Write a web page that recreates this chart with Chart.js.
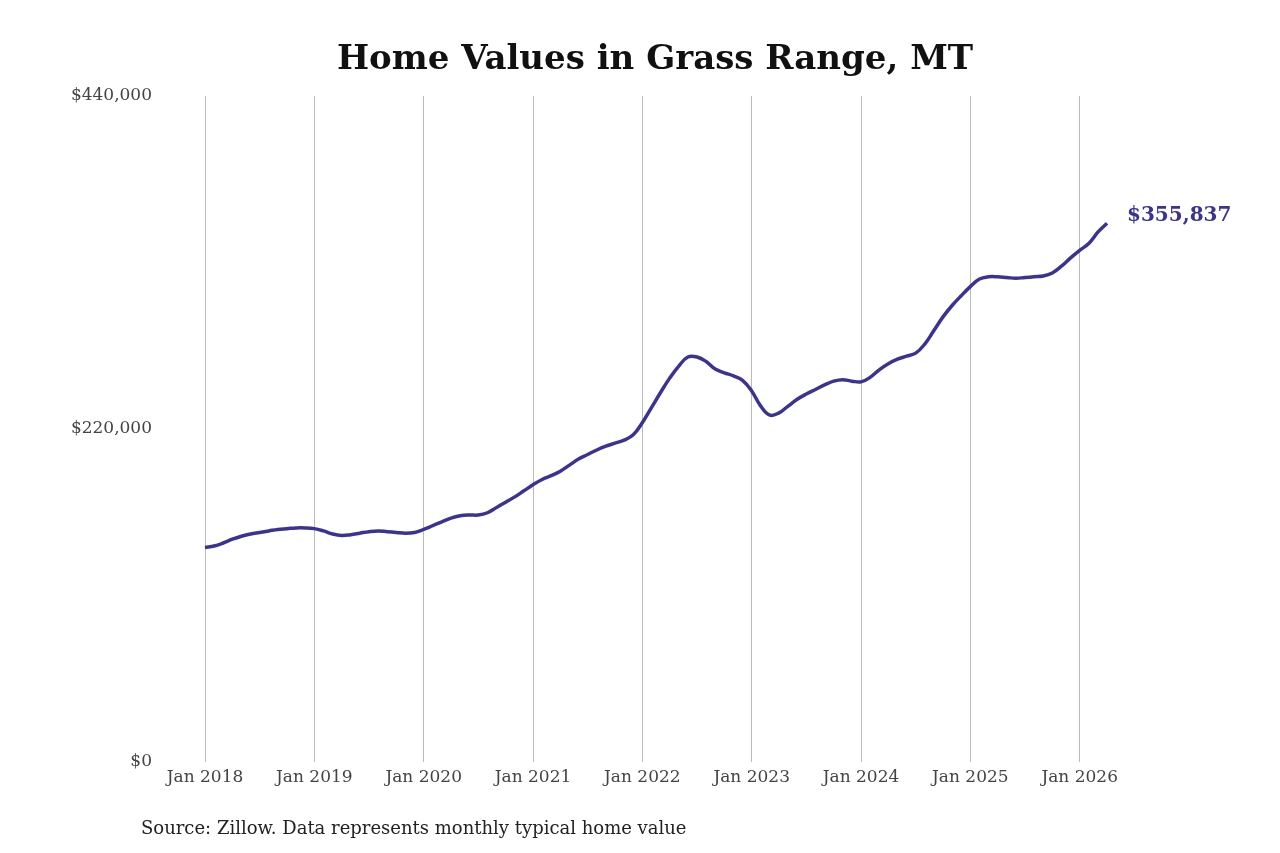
<!DOCTYPE html>
<html>
<head>
<meta charset="utf-8">
<script src="https://cdn.jsdelivr.net/npm/chart.js@4"></script>
<style>
  html, body { margin: 0; padding: 0; background: #fff; }
  #wrap { width: 1280px; height: 853px; }
</style>
</head>
<body>
<div id="wrap"><canvas id="chart"></canvas></div>
<script>
// monthly typical home value, Jan 2018 .. Apr 2026
var months = ["Jan", "Feb", "Mar", "Apr", "May", "Jun", "Jul", "Aug", "Sep", "Oct", "Nov", "Dec"];
var values = [
  141500, 142500, 144500, 147000, 149000, 150500, 151500, 152500, 153500, 154000, 154500, 154500, // 2018
  154000, 152500, 150500, 149500, 150000, 151000, 152000, 152500, 152000, 151500, 151000, 151500, // 2019
  153500, 156000, 158500, 161000, 162500, 163000, 163000, 164500, 168000, 171500, 175000, 179000, // 2020
  183000, 186500, 189000, 192000, 196000, 200000, 203000, 206000, 208500, 210500, 212500, 216000, // 2021
  224000, 234000, 244000, 253500, 261500, 267500, 267500, 264500, 259500, 257000, 255000, 252000, // 2022
  245000, 235000, 229000, 230500, 235000, 239500, 243000, 246000, 249000, 251500, 252500, 251500, // 2023
  251000, 254000, 259000, 263000, 266000, 268000, 270000, 276000, 285000, 294000, 301500, 308000, // 2024
  314000, 319000, 320500, 320500, 320000, 319500, 320000, 320500, 321000, 323000, 327500, 333000, // 2025
  338000, 342500, 350000, 355837                                                                  // 2026
];
var yTicks = [0, 220000, 440000];
var titleText = "Home Values in Grass Range, MT";
var lastLabel = "$355,837";
var sourceText = "Source: Zillow. Data represents monthly typical home value";

var labels = values.map(function (v, i) {
  return months[i % 12] + " " + (2018 + Math.floor(i / 12));
});
var lineColor = "#3b3394";

var extras = {
  id: "extras",
  afterDatasetsDraw: function (chart) {
    var ctx = chart.ctx;
    var meta = chart.getDatasetMeta(0);
    var pt = meta.data[meta.data.length - 1];
    ctx.save();
    ctx.textAlign = "center";
    ctx.textBaseline = "middle";
    ctx.font = "bold 34px 'DejaVu Serif'";
    ctx.fillStyle = "#111";
    ctx.fillText(titleText, 655, 60);
    ctx.textAlign = "left";
    ctx.font = "bold 20px 'DejaVu Serif'";
    ctx.fillStyle = lineColor;
    ctx.fillText(lastLabel, pt.x + 20, pt.y - 8);
    ctx.font = "18px 'DejaVu Serif'";
    ctx.fillStyle = "#222";
    ctx.textBaseline = "alphabetic";
    ctx.fillText(sourceText, 141, 834);
    ctx.restore();
  }
};

new Chart(document.getElementById("chart"), {
  type: "line",
  data: {
    labels: labels,
    datasets: [{
      data: values,
      borderColor: lineColor,
      borderWidth: 3.5,
      pointRadius: 0,
      tension: 0.4,
      fill: false
    }]
  },
  options: {
    responsive: true,
    maintainAspectRatio: false,
    animation: false,
    layout: { padding: { left: 0, right: 173, top: 96, bottom: 59 } },
    plugins: {
      legend: { display: false },
      tooltip: { enabled: false },
      title: { display: false }
    },
    scales: {
      x: {
        offset: false,
        border: { display: false },
        grid: {
          drawTicks: false,
          color: function (c) {
            return c.index % 12 === 0 ? "#bbbbbb" : "rgba(0,0,0,0)";
          }
        },
        ticks: {
          autoSkip: false,
          maxRotation: 0,
          padding: 6,
          color: "#444",
          font: { family: "'DejaVu Serif'", size: 17 },
          callback: function (v, i) { return i % 12 === 0 ? labels[i] : ""; }
        }
      },
      y: {
        min: 0,
        max: 440000,
        border: { display: false },
        grid: { display: false, drawTicks: false },
        afterFit: function (s) { s.width = 205; },
        afterBuildTicks: function (s) {
          s.ticks = yTicks.map(function (v) { return { value: v }; });
        },
        ticks: {
          padding: 53,
          color: "#444",
          font: { family: "'DejaVu Serif'", size: 17 },
          callback: function (v) { return "$" + v.toLocaleString("en-US"); }
        }
      }
    }
  },
  plugins: [extras]
});
</script>
</body>
</html>
